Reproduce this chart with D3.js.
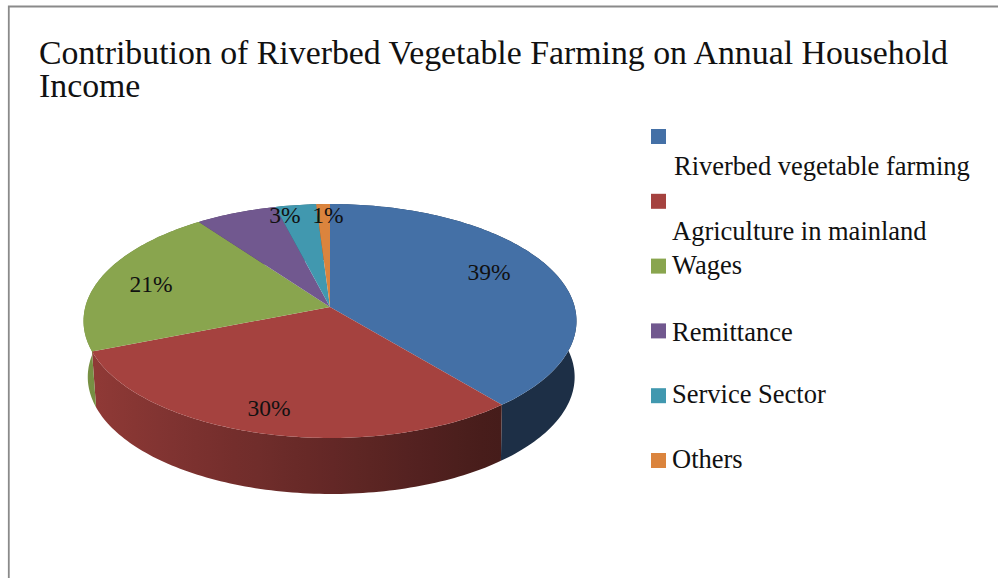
<!DOCTYPE html>
<html>
<head>
<meta charset="utf-8">
<script src="https://cdn.jsdelivr.net/npm/d3@7"></script>
<style>
  html, body { margin: 0; padding: 0; background: #fff; }
  svg { display: block; }
  text { font-family: "Liberation Serif", serif; fill: #111; }
</style>
</head>
<body>
<div id="chart"></div>
<script>
// Income shares, in percent
const categories = ["Riverbed vegetable farming", "Agriculture in mainland", "Wages", "Remittance", "Service Sector", "Others"];
const shares = [39, 30, 21, 6, 3, 1];
const labelled = [true, true, true, false, true, true];
const topColors = ["#4470a6", "#a5423f", "#89a54e", "#71588f", "#4198af", "#db843d"];
const titleLines = ["Contribution of Riverbed Vegetable Farming on Annual Household", "Income"];

const width = 999, height = 578;
const svg = d3.select("#chart").append("svg").attr("width", width).attr("height", height);

// Chart frame: only the top and left edges fall inside the page
svg.append("path")
  .attr("d", d3.line()([[998, 6.5], [8.8, 6.5], [8.8, 578]]))
  .attr("fill", "none").attr("stroke", "#8a8a8a").attr("stroke-width", 1.8);

svg.selectAll("text.title").data(titleLines).join("text")
  .attr("class", "title")
  .attr("x", 39)
  .attr("y", (d, i) => 64 + i * 33)
  .attr("font-size", 33.8)
  .text(d => d);

// The disc is tilted with perspective: the near rim is larger than the far rim
const perspective = -0.1197;
const rims = {
  top: { cx: 330, cy: 307, a: 244.7, b: 115.3 },
  bottom: { cx: 331.2, cy: 363, a: 241.7, b: 115.3 }
};
function rimPoint(angle, rim) {
  const u = Math.sin(angle), v = -Math.cos(angle);
  const w = 1 + perspective * v;
  return [rim.cx + rim.a * u / w, rim.cy + rim.b * v / w];
}
function arcSamples(a0, a1, rim) {
  const n = Math.max(2, Math.ceil((a1 - a0) / 0.02));
  return d3.range(n + 1).map(i => rimPoint(a0 + (a1 - a0) * i / n, rim));
}

const slices = d3.pie().sort(null).value(d => d)(shares);
const color = d3.scaleOrdinal().domain(categories).range(topColors);
const line = d3.line();
const defs = svg.append("defs");

// Side walls are shaded from left to right and are darker than the top faces
const wallShade = d3.scaleLinear().domain([90, 200, 330, 496, 580]).range([0.87, 0.74, 0.6, 0.42, 0.42]);
slices.forEach((s, i) => {
  const g = defs.append("linearGradient")
    .attr("id", "wall" + i)
    .attr("gradientUnits", "userSpaceOnUse")
    .attr("x1", 85).attr("x2", 580).attr("y1", 0).attr("y2", 0);
  d3.range(0, 1.0001, 0.05).forEach(t => {
    const x = 85 + t * 495;
    const base = d3.rgb(topColors[i]);
    const k = wallShade(x);
    g.append("stop").attr("offset", t)
      .attr("stop-color", d3.rgb(base.r * k, base.g * k, base.b * k).formatHex());
  });
});

const pie = svg.append("g");
pie.selectAll("path.wall").data(slices).join("path")
  .attr("class", "wall")
  .attr("fill", (d, i) => `url(#wall${i})`)
  .attr("d", d => line(
    arcSamples(d.startAngle, d.endAngle, rims.top)
      .concat(arcSamples(d.startAngle, d.endAngle, rims.bottom).reverse())
  ) + "Z");

pie.selectAll("path.face").data(slices).join("path")
  .attr("class", "face")
  .attr("fill", (d, i) => color(categories[i]))
  .attr("d", d => line(
    [[rims.top.cx, rims.top.cy]].concat(arcSamples(d.startAngle, d.endAngle, rims.top))
  ) + "Z");

// Percentage labels sit at hand-placed spots on the faces
const labelSpots = [[489, 272], [269, 408], [151, 284], null, [285, 215], [328, 215]];
svg.selectAll("text.pct").data(slices.filter((d, i) => labelled[i])).join("text")
  .attr("class", "pct")
  .attr("text-anchor", "middle")
  .attr("dominant-baseline", "central")
  .attr("font-size", 23.5)
  .attr("x", d => labelSpots[d.index][0])
  .attr("y", d => labelSpots[d.index][1])
  .text(d => d.data + "%");

// Legend: the two longest names drop to a second line below their swatch
const legendY = d3.scalePoint().domain(categories).range([129, 453]);
const legendTextX = [674, 672, 672, 672, 672, 672];
const legendBaseline = [175, 240, 274, 341, 403, 468];
const legend = svg.append("g");
legend.selectAll("rect").data(categories).join("rect")
  .attr("x", 651).attr("width", 15).attr("height", 15)
  .attr("y", d => legendY(d))
  .attr("fill", d => color(d));
legend.selectAll("text").data(categories).join("text")
  .attr("x", (d, i) => legendTextX[i])
  .attr("y", (d, i) => legendBaseline[i])
  .attr("font-size", 26.5)
  .text(d => d);
</script>
</body>
</html>
